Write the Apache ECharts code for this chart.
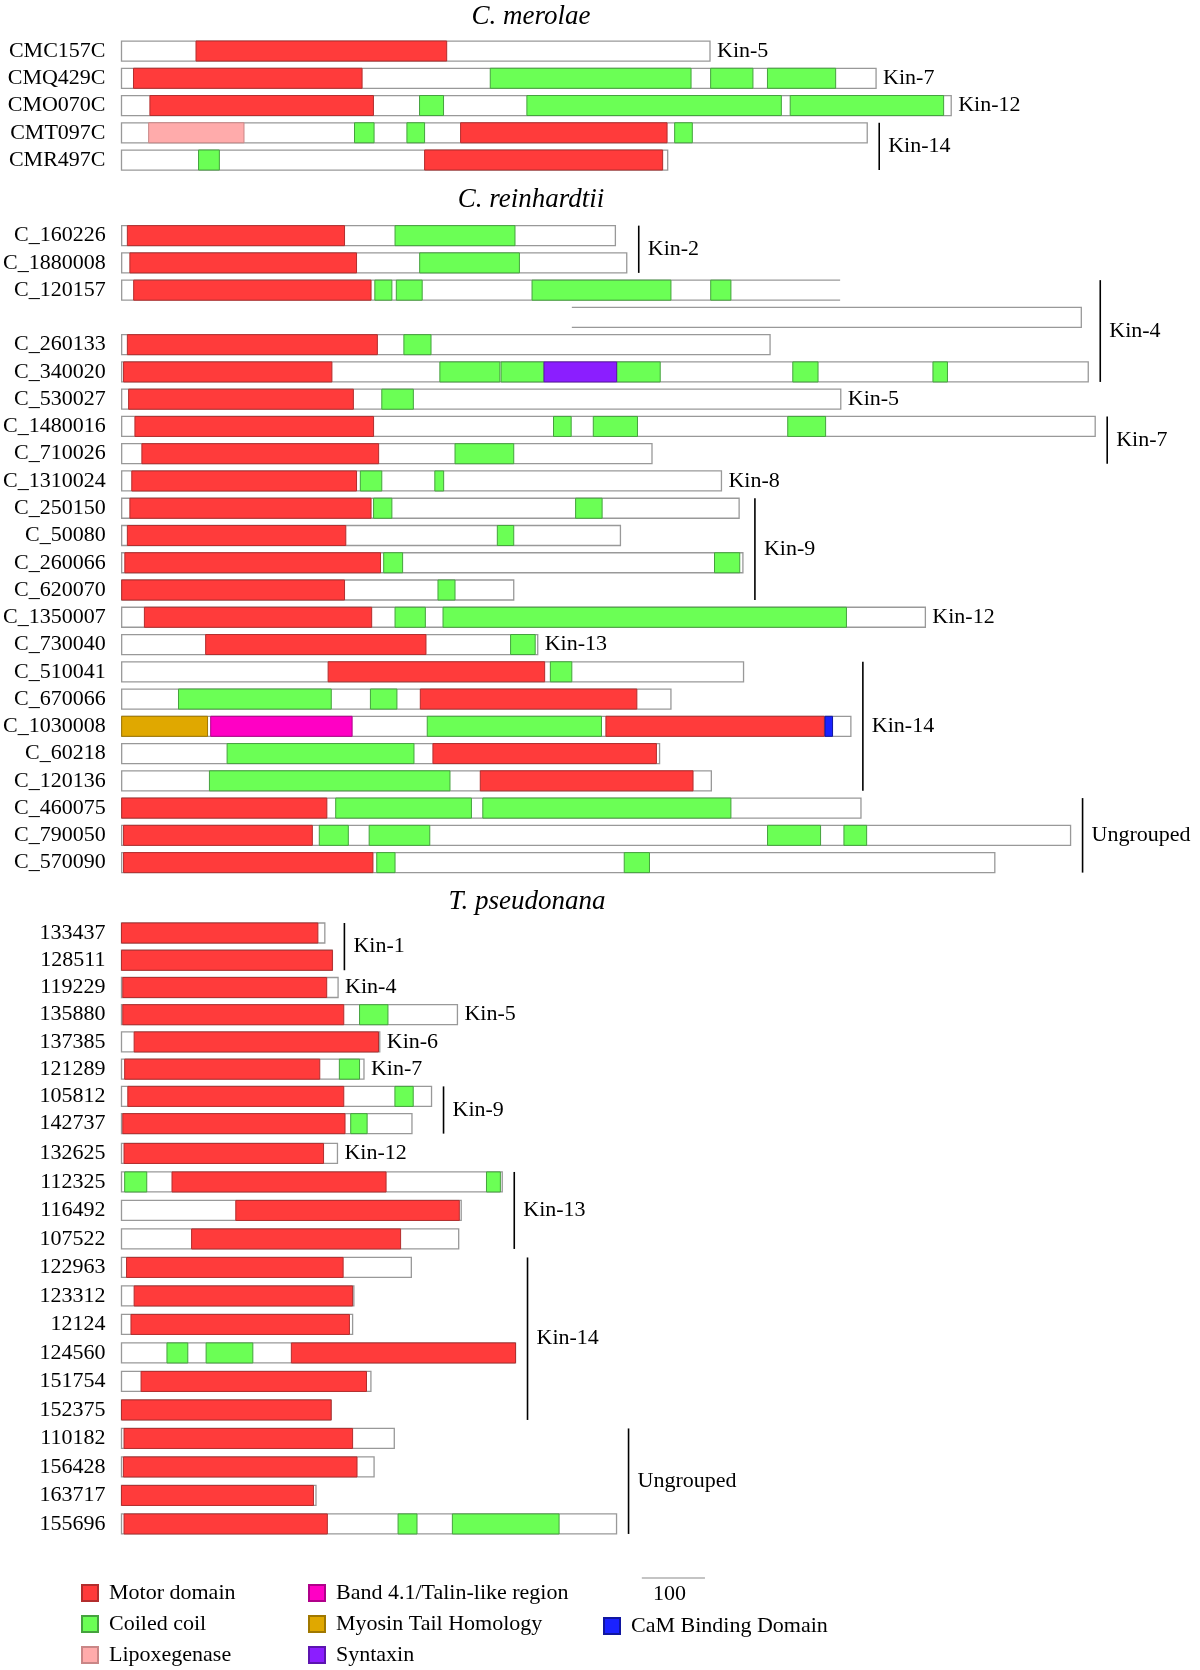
<!DOCTYPE html>
<html>
<head>
<meta charset="utf-8">
<script src="https://cdn.jsdelivr.net/npm/echarts/dist/echarts.min.js"></script>
<style>
html,body{margin:0;padding:0;background:#fff;}
#chart{width:1200px;height:1670px;}
</style>
</head>
<body>
<div id="chart"></div>
<script>
// ---------------- DATA (lengths / positions in amino acids) ----------------
const domainTypes = ['Motor domain','Coiled coil','Lipoxegenase','Band 4.1/Talin-like region','Myosin Tail Homology','Syntaxin','CaM Binding Domain'];
const domainKeys  = ['M','C','L','B','T','S','K'];
const scaleBarLength = 100;

// C. merolae
const merolaeNames  = ['CMC157C','CMQ429C','CMO070C','CMT097C','CMR497C'];
const merolaeStarts = [0,0,0,0,0];
const merolaeEnds   = [932,1195,1314,1181,865];
const merolaeDomains = [
  ['CMC157C','M',118,515],
  ['CMQ429C','M',19,381],['CMQ429C','C',584,902],['CMQ429C','C',933,1000],['CMQ429C','C',1023,1131],
  ['CMO070C','M',45,399],['CMO070C','C',472,510],['CMO070C','C',642,1045],['CMO070C','C',1059,1302],
  ['CMT097C','L',43,194],['CMT097C','C',369,400],['CMT097C','C',452,480],['CMT097C','M',537,864],['CMT097C','C',876,904],
  ['CMR497C','C',122,155],['CMR497C','M',480,857]
];
const merolaeGroups = [['Kin-5','CMC157C','CMC157C'],['Kin-7','CMQ429C','CMQ429C'],['Kin-12','CMO070C','CMO070C'],['Kin-14','CMT097C','CMR497C']];
const merolaeOpenEnd = [];
const merolaeOpenStart = [];

// C. reinhardtii  ('' = continuation line of C_120157)
const reinNames  = ['C_160226','C_1880008','C_120157','','C_260133','C_340020','C_530027','C_1480016','C_710026','C_1310024','C_250150','C_50080','C_260066','C_620070','C_1350007','C_730040','C_510041','C_670066','C_1030008','C_60218','C_120136','C_460075','C_790050','C_570090'];
const reinStarts = [0,0,0,713,0,0,0,0,0,0,0,0,0,0,0,0,0,0,0,0,0,0,0,0];
const reinEnds   = [782,800,1138,1520,1027,1531,1139,1542,840,950,978,790,984,621,1273,659,985,870,1155,852,934,1171,1503,1383];
const reinDomains = [
  ['C_160226','M',9,353],['C_160226','C',433,623],
  ['C_1880008','M',13,372],['C_1880008','C',472,630],
  ['C_120157','M',19,395],['C_120157','C',401,428],['C_120157','C',435,476],['C_120157','C',650,870],['C_120157','C',933,965],
  ['C_260133','M',9,405],['C_260133','C',447,490],
  ['C_340020','M',3,333],['C_340020','C',504,599],['C_340020','C',601,669],['C_340020','S',669,784],['C_340020','C',784,853],['C_340020','C',1063,1103],['C_340020','C',1285,1308],
  ['C_530027','M',11,367],['C_530027','C',412,462],
  ['C_1480016','M',21,399],['C_1480016','C',684,712],['C_1480016','C',747,817],['C_1480016','C',1055,1115],
  ['C_710026','M',32,407],['C_710026','C',528,621],
  ['C_1310024','M',16,372],['C_1310024','C',378,412],['C_1310024','C',496,510],
  ['C_250150','M',13,395],['C_250150','C',399,428],['C_250150','C',719,761],
  ['C_50080','M',9,355],['C_50080','C',595,621],
  ['C_260066','M',5,410],['C_260066','C',415,445],['C_260066','C',939,979],
  ['C_620070','M',0,353],['C_620070','C',501,528],
  ['C_1350007','M',36,396],['C_1350007','C',433,481],['C_1350007','C',509,1148],
  ['C_730040','M',133,482],['C_730040','C',616,655],
  ['C_510041','M',327,670],['C_510041','C',679,713],
  ['C_670066','C',90,332],['C_670066','C',394,436],['C_670066','M',473,816],
  ['C_1030008','T',0,136],['C_1030008','B',141,365],['C_1030008','C',484,760],['C_1030008','M',767,1113],['C_1030008','K',1114,1126],
  ['C_60218','C',167,463],['C_60218','M',493,847],
  ['C_120136','C',139,520],['C_120136','M',568,905],
  ['C_460075','M',0,325],['C_460075','C',339,554],['C_460075','C',572,965],
  ['C_790050','M',3,302],['C_790050','C',313,359],['C_790050','C',392,488],['C_790050','C',1023,1107],['C_790050','C',1144,1180],
  ['C_570090','M',3,398],['C_570090','C',404,433],['C_570090','C',796,836]
];
const reinGroups = [['Kin-2','C_160226','C_1880008'],['Kin-4','C_120157','C_340020'],['Kin-5','C_530027','C_530027'],['Kin-7','C_1480016','C_710026'],['Kin-8','C_1310024','C_1310024'],['Kin-9','C_250150','C_620070'],['Kin-12','C_1350007','C_1350007'],['Kin-13','C_730040','C_730040'],['Kin-14','C_510041','C_120136'],['Ungrouped','C_460075','C_570090']];
const reinOpenEnd = ['C_120157'];
const reinOpenStart = [''];

// T. pseudonana
const thalNames  = ['133437','128511','119229','135880','137385','121289','105812','142737','132625','112325','116492','107522','122963','123312','12124','124560','151754','152375','110182','156428','163717','155696'];
const thalStarts = [0,0,0,0,0,0,0,0,0,0,0,0,0,0,0,0,0,0,0,0,0,0];
const thalEnds   = [322,334,343,532,409,384,491,460,342,603,538,534,459,368,366,624,395,332,432,400,308,784];
const thalDomains = [
  ['133437','M',0,311],
  ['128511','M',0,334],
  ['119229','M',2,325],
  ['135880','M',2,352],['135880','C',377,422],
  ['137385','M',20,407],
  ['121289','M',5,314],['121289','C',345,377],
  ['105812','M',10,352],['105812','C',433,462],
  ['142737','M',2,354],['142737','C',363,389],
  ['132625','M',4,320],
  ['112325','C',5,40],['112325','M',80,419],['112325','C',578,600],
  ['116492','M',181,535],
  ['107522','M',111,442],
  ['122963','M',8,351],
  ['123312','M',20,366],
  ['12124','M',15,361],
  ['124560','C',72,105],['124560','C',134,208],['124560','M',269,624],
  ['151754','M',31,388],
  ['152375','M',0,332],
  ['110182','M',4,366],
  ['156428','M',3,373],
  ['163717','M',0,304],
  ['155696','M',4,326],['155696','C',438,468],['155696','C',524,693]
];
const thalGroups = [['Kin-1','133437','128511'],['Kin-4','119229','119229'],['Kin-5','135880','135880'],['Kin-6','137385','137385'],['Kin-7','121289','121289'],['Kin-9','105812','142737'],['Kin-12','132625','132625'],['Kin-13','112325','107522'],['Kin-14','122963','152375'],['Ungrouped','110182','155696']];
const thalOpenEnd = [];
const thalOpenStart = [];

const sectionTitles = ['C. merolae','C. reinhardtii','T. pseudonana'];

// ---------------- STYLE / LAYOUT ----------------
const FONT = '"Liberation Serif", "Times New Roman", serif';
const domainColors  = ['#FF3B3B','#6BFF55','#FFABAB','#FF00C4','#E0A800','#8B1EFF','#1A22FF'];
const domainBorders = ['#B32D2D','#45A23E','#C98686','#B0008A','#A07800','#5C14B0','#1016A0'];
const X_MAX = 1708;
const BAR_H = 20;
// each panel: which section, which row slice, top and row pitch (px)
const panels = [
  {section: 0, from: 0, to: 5,  top: 37.4,  rowH: 27.25, title: {x: 531, y: 17}},
  {section: 1, from: 0, to: 24, top: 222.0, rowH: 27.26, title: {x: 531, y: 200}},
  {section: 2, from: 0, to: 8,  top: 919.4, rowH: 27.23, title: {x: 527, y: 902}},
  {section: 2, from: 8, to: 22, top: 1139.2, rowH: 28.5}
];
const scaleBarFrom = 824;

const sections = [
  {names: merolaeNames, starts: merolaeStarts, ends: merolaeEnds, domains: merolaeDomains, groups: merolaeGroups, openEnd: merolaeOpenEnd, openStart: merolaeOpenStart},
  {names: reinNames, starts: reinStarts, ends: reinEnds, domains: reinDomains, groups: reinGroups, openEnd: reinOpenEnd, openStart: reinOpenStart},
  {names: thalNames, starts: thalStarts, ends: thalEnds, domains: thalDomains, groups: thalGroups, openEnd: thalOpenEnd, openStart: thalOpenStart}
];

// ---------------- RENDERERS ----------------
function renderBackbone(params, api) {
  const i = api.value(0);
  const a = api.coord([api.value(1), i]);
  const b = api.coord([api.value(2), i]);
  const flag = api.value(3);
  const top = a[1] - BAR_H / 2, bot = a[1] + BAR_H / 2;
  if (flag === 0) {
    return {type: 'rect', shape: {x: a[0], y: top, width: b[0] - a[0], height: BAR_H},
      style: {fill: '#ffffff', stroke: '#999999', lineWidth: 1.3}};
  }
  const pts = flag === 1
    ? [[b[0], top], [a[0], top], [a[0], bot], [b[0], bot]]
    : [[a[0], top], [b[0], top], [b[0], bot], [a[0], bot]];
  return {type: 'group', children: [
    {type: 'rect', shape: {x: a[0], y: top, width: b[0] - a[0], height: BAR_H}, style: {fill: '#ffffff'}},
    {type: 'polyline', shape: {points: pts}, style: {stroke: '#999999', lineWidth: 1.3, fill: null}}
  ]};
}

function renderDomain(params, api) {
  const i = api.value(0);
  const a = api.coord([api.value(1), i]);
  const b = api.coord([api.value(2), i]);
  return {type: 'rect', shape: {x: a[0], y: a[1] - BAR_H / 2, width: b[0] - a[0], height: BAR_H},
    style: api.style()};
}

function makeGroupRenderer(groups) {
  return function (params, api) {
    const label = groups[params.dataIndex][0];
    const i0 = api.value(0), i1 = api.value(1), end = api.value(2);
    const p0 = api.coord([end, i0]);
    const p1 = api.coord([end, i1]);
    const txtStyle = {text: label, font: '22px ' + FONT, fill: '#000', align: 'left', verticalAlign: 'middle'};
    if (i0 === i1) {
      return {type: 'text', x: p0[0] + 7, y: p0[1], style: txtStyle};
    }
    const x = p0[0] + 12;
    const y0 = p0[1] - 10, y1 = p1[1] + 10;
    return {type: 'group', children: [
      {type: 'line', shape: {x1: x, y1: y0, x2: x, y2: y1}, style: {stroke: '#000', lineWidth: 1.6}},
      {type: 'text', x: x + 9, y: (y0 + y1) / 2, style: txtStyle}
    ]};
  };
}

function renderScaleBar(params, api) {
  const i = api.value(0);
  const a = api.coord([api.value(1), i]);
  const b = api.coord([api.value(2), i]);
  const y = a[1] + 54;
  return {type: 'group', children: [
    {type: 'line', shape: {x1: a[0], y1: y, x2: b[0], y2: y}, style: {stroke: '#b0b0b0', lineWidth: 1.5}},
    {type: 'text', x: (a[0] + b[0]) / 2 - 4, y: y + 16,
      style: {text: String(scaleBarLength), font: '22px ' + FONT, fill: '#000', align: 'center', verticalAlign: 'middle'}}
  ]};
}

// ---------------- BUILD OPTION ----------------
const grid = [], xAxis = [], yAxis = [], series = [], graphic = [];
panels.forEach((P, g) => {
  const s = sections[P.section];
  const names = s.names.slice(P.from, P.to);
  const starts = s.starts.slice(P.from, P.to);
  const ends = s.ends.slice(P.from, P.to);
  grid.push({left: 121.5, width: 1079, top: P.top, height: names.length * P.rowH});
  xAxis.push({gridIndex: g, type: 'value', min: 0, max: X_MAX, show: false});
  yAxis.push({gridIndex: g, type: 'category', data: names, inverse: true,
    axisLine: {show: false}, axisTick: {show: false}, splitLine: {show: false},
    axisLabel: {interval: 0, fontFamily: FONT, fontSize: 22, color: '#000', margin: 16}});
  series.push({type: 'custom', xAxisIndex: g, yAxisIndex: g, silent: true, z: 1,
    encode: {x: [1, 2], y: 0}, renderItem: renderBackbone,
    data: names.map((n, i) => [i, starts[i], ends[i],
      s.openEnd.includes(n) ? 1 : (s.openStart.includes(n) ? 2 : 0)])});
  domainKeys.forEach((k, t) => {
    const items = s.domains.filter(d => d[1] === k && names.includes(d[0]))
      .map(d => [names.indexOf(d[0]), d[2], d[3]]);
    if (!items.length) return;
    series.push({type: 'custom', name: domainTypes[t], xAxisIndex: g, yAxisIndex: g, z: 2,
      itemStyle: {color: domainColors[t], borderColor: domainBorders[t], borderWidth: 1},
      encode: {x: [1, 2], y: 0}, renderItem: renderDomain, data: items});
  });
  const groups = s.groups.filter(gr => names.includes(gr[1]) && names.includes(gr[2]));
  series.push({type: 'custom', xAxisIndex: g, yAxisIndex: g, silent: true, z: 3,
    encode: {x: 2, y: [0, 1]}, renderItem: makeGroupRenderer(groups),
    data: groups.map(gr => {
      const i0 = names.indexOf(gr[1]), i1 = names.indexOf(gr[2]);
      let mx = 0;
      for (let i = i0; i <= i1; i++) mx = Math.max(mx, ends[i]);
      return [i0, i1, mx];
    })});
  if (P.title) {
    graphic.push({type: 'text', x: P.title.x, y: P.title.y,
      style: {text: sectionTitles[P.section], font: 'italic 27px ' + FONT, fill: '#000', align: 'center', verticalAlign: 'middle'}});
  }
});
// scale bar under the last panel
const lastG = panels.length - 1;
series.push({type: 'custom', xAxisIndex: lastG, yAxisIndex: lastG, silent: true, z: 3,
  encode: {x: [1, 2], y: 0}, renderItem: renderScaleBar,
  data: [[panels[lastG].to - panels[lastG].from - 1, scaleBarFrom, scaleBarFrom + scaleBarLength]]});

const legendCommon = {orient: 'vertical', padding: 0, itemWidth: 16, itemHeight: 16, itemGap: 9, icon: 'rect',
  textStyle: {fontFamily: FONT, fontSize: 22, color: '#000', padding: [0, 0, 0, 6]}};

const option = {
  animation: false,
  backgroundColor: '#ffffff',
  grid, xAxis, yAxis, series, graphic,
  legend: [
    Object.assign({}, legendCommon, {left: 81, top: 1582, data: ['Motor domain', 'Coiled coil', 'Lipoxegenase']}),
    Object.assign({}, legendCommon, {left: 308, top: 1582, data: ['Band 4.1/Talin-like region', 'Myosin Tail Homology', 'Syntaxin']}),
    Object.assign({}, legendCommon, {left: 603, top: 1615, data: ['CaM Binding Domain']})
  ]
};

const chart = echarts.init(document.getElementById('chart'), null, {renderer: 'canvas'});
chart.setOption(option);
</script>
</body>
</html>
